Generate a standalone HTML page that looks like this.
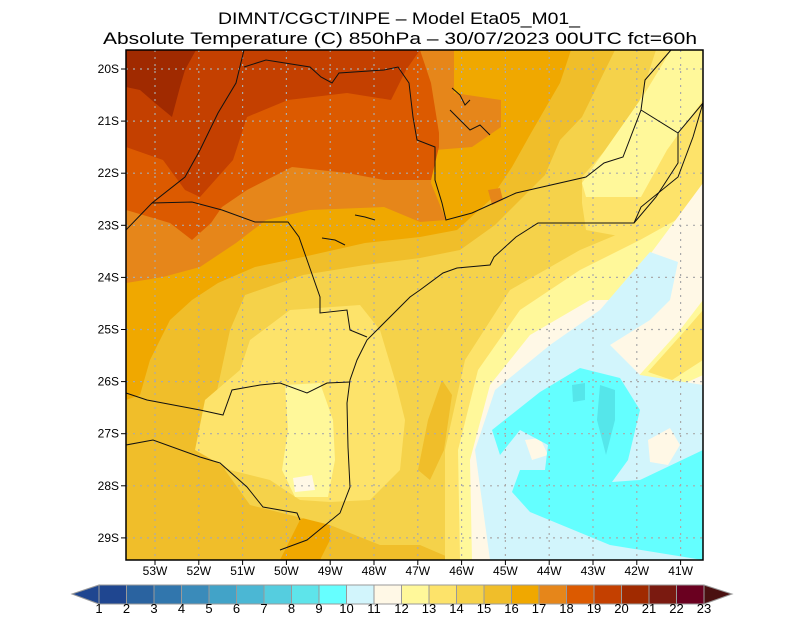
<!DOCTYPE html>
<html><head><meta charset="utf-8"><style>
body{margin:0;background:#fff;width:800px;height:618px;overflow:hidden;font-family:"Liberation Sans",sans-serif}
svg{display:block}
</style></head><body>
<svg id="map" width="800" height="618" viewBox="0 0 800 618">
<text x="218" y="24" textLength="362" lengthAdjust="spacingAndGlyphs" font-size="17" font-family="Liberation Sans, sans-serif">DIMNT/CGCT/INPE –  Model Eta05_M01_</text>
<text x="103" y="44" textLength="594" lengthAdjust="spacingAndGlyphs" font-size="17" font-family="Liberation Sans, sans-serif">Absolute Temperature (C) 850hPa –  30/07/2023 00UTC fct=60h</text>
<defs><clipPath id="plot"><rect x="126" y="50" width="577" height="510"/></clipPath></defs>
<g clip-path="url(#plot)">
<rect x="126" y="50" width="577" height="510" fill="#f0be2a"/>
<polygon fill="#f0a800" points="126,50 571,50 560,83 531,133 512,167 490,200 457,230 420,237 365,243 303,257 255,267 218,283 192,300 170,320 150,360 140,395 126,400"/>
<polygon fill="#f0a800" points="280,560 300,520 330,505 330,540 320,560"/>
<polygon fill="#e6861a" points="126,50 454,50 454,93 501,100 501,127 472,147 435,150 431,183 446,220 420,222 384,207 310,210 266,220 236,243 200,267 163,277 126,283"/>
<polygon fill="#e6861a" points="488,190 500,188 503,200 492,205"/>
<polygon fill="#dc5a00" points="126,50 420,50 431,83 439,133 439,147 431,180 384,180 347,173 292,167 247,190 222,207 211,223 192,240 170,223 126,210"/>
<polygon fill="#c44000" points="126,50 420,50 406,70 391,100 347,93 288,100 247,117 233,160 200,197 185,190 163,160 126,147"/>
<polygon fill="#a02a00" points="126,50 196,50 185,70 180,87 172,117 155,103 140,90 126,87"/>
<polygon fill="#f5d24a" points="615,50 703,50 703,560 455,560 420,545 380,545 330,525 250,505 225,470 215,400 230,330 245,295 303,275 365,265 420,258 460,250 495,225 520,200 545,175 560,140 582,117"/>
<polygon fill="#f0be2a" points="418,470 428,420 442,380 452,395 444,450 430,480"/>
<polygon fill="#fde36a" points="290,310 360,305 380,330 395,380 405,420 400,470 370,500 330,502 300,500 270,480 230,470 195,450 205,400 240,370 250,340"/>
<polygon fill="#fde36a" points="656,50 703,50 703,260 640,240 586,230 582,203 582,177 634,117"/>
<polygon fill="#fde36a" points="445,560 445,450 465,360 510,290 580,250 640,225 703,195 703,560"/>
<polygon fill="#fff89a" points="285,385 320,383 333,420 335,460 328,497 295,497 282,470 288,430"/>
<polygon fill="#fff8e6" points="293,478 312,475 315,490 295,492"/>
<polygon fill="#fff89a" points="671,50 703,50 703,100 667,150 641,197 586,197 582,183 645,93"/>
<polygon fill="#fff89a" points="460,560 458,450 478,370 520,310 580,270 640,240 703,205 703,560"/>
<polygon fill="#fff8e6" points="472,560 470,460 490,385 530,335 590,300 616,300 663,237 703,183 703,560"/>
<polygon fill="#fff89a" points="635,380 680,330 703,300 703,375 670,390"/>
<polygon fill="#fde36a" points="648,372 690,325 703,310 703,360 672,380"/>
<polygon fill="#d2f5fc" points="490,560 475,450 495,390 550,345 600,310 630,275 650,252 678,262 670,300 650,320 610,345 640,375 703,385 703,560"/>
<polygon fill="#fff8e6" points="648,440 670,428 680,445 668,465 650,462"/>
<polygon fill="#fff8e6" points="525,440 540,438 548,455 532,460"/>
<polygon fill="#64ffff" points="492,430 540,392 580,368 620,378 640,410 628,460 612,482 640,480 703,450 703,560 610,545 530,512 512,492 520,470 545,470 548,445 520,430 500,455"/>
<polygon fill="#55e6ea" points="600,385 615,390 615,420 606,455 597,420"/>
<polygon fill="#55e6ea" points="572,385 585,383 585,400 573,402"/>
</g>
<g id="grid" stroke="#aaa" stroke-width="1.2" stroke-dasharray="2,5" fill="none"></g>
<g fill="none" stroke="#111" stroke-width="1">
<polyline points="280,550 307,540 340,513 350,487 348,447 347,403 350,380 357,360 367,340 377,330 410,297 420,290 443,273 457,268 490,265 494,257 516,237 538,223 586,223 634,223 641,207 678,177 693,137 703,103"/>
<polyline points="244,50 236,83 218,113 200,150 185,177 152,203 126,230"/>
<polyline points="152,203 192,202 222,210 255,222 288,222 299,237 306,257 320,297 320,313 347,310 350,330 367,337"/>
<polyline points="244,67 266,60 310,67 321,77 332,83 339,73 384,70 398,67 409,83 413,117 417,140 435,147 435,180 442,203 446,220 472,213 494,203 516,193 586,177 604,163 623,157 641,110 645,80 671,50"/>
<polyline points="641,110 678,133 703,103"/>
<polyline points="678,133 678,163 656,197 634,223"/>
<polyline points="126,393 147,400 200,410 223,415 232,390 260,385 280,383 307,393 327,383 350,382"/>
<polyline points="126,445 153,440 200,457 220,463 247,487 263,507 297,513 300,520"/>
<polyline points="452,88 460,95 465,105 470,100"/>
<polyline points="450,110 460,120 470,130 480,125 490,135"/>
<polyline points="355,215 365,217 375,220"/>
<polyline points="322,238 335,240 345,245"/>
</g>
<rect x="126" y="50" width="577" height="510" fill="none" stroke="#000" stroke-width="1.5"/>
<g id="axes" font-size="12" font-family="Liberation Sans, sans-serif"></g>
<g id="cbar"></g>
</svg>
<script>
const latLabels=["20S","21S","22S","23S","24S","25S","26S","27S","28S","29S"];
const lonLabels=["53W","52W","51W","50W","49W","48W","47W","46W","45W","44W","43W","42W","41W"];
const levels=[1,2,3,4,5,6,7,8,9,10,11,12,13,14,15,16,17,18,19,20,21,22,23];
const cbColors=["#1f4690","#2a63a0","#3176ad","#3a8bba","#42a3c8","#4bb7d4","#55cddf","#5ee4ea","#66ffff","#d2f5fc","#fff8e6","#fff89a","#fde36a","#f5d24a","#f0be2a","#f0a800","#e6861a","#dc5a00","#c44000","#a02a00","#7a1a10","#6a0020"];
const NS="http://www.w3.org/2000/svg";
function mk(t,a,p){const e=document.createElementNS(NS,t);for(const k in a)e.setAttribute(k,a[k]);p.appendChild(e);return e;}
const yLat=i=>69+i*52.1, xLon=i=>155+i*43.8;
const grid=document.getElementById('grid'),axes=document.getElementById('axes'),cb=document.getElementById('cbar');
latLabels.forEach((l,i)=>{const y=yLat(i);
 const g=mk('line',{x1:126,x2:703,y1:y,y2:y},grid);
 
 
 mk('line',{x1:121,x2:126,y1:y,y2:y,stroke:'#000'},axes);
 const t=mk('text',{x:119,y:y+4,'text-anchor':'end'},axes);t.textContent=l;
 
 });
lonLabels.forEach((l,i)=>{const x=xLon(i);
 const g=mk('line',{x1:x,x2:x,y1:50,y2:560},grid);
 
 
 mk('line',{x1:x,x2:x,y1:560,y2:565,stroke:'#000'},axes);
 const t=mk('text',{x:x,y:575,'text-anchor':'middle'},axes);t.textContent=l;
 
 });
const x0=99,x1=704,w=(x1-x0)/cbColors.length;
const lo=mk('polygon',{points:`72,594 ${x0},585 ${x0},604`,fill:'#1f4690',stroke:'#999'},cb);


const hi=mk('polygon',{points:`${x1},585 732,594 ${x1},604`,fill:'#4a1010',stroke:'#999'},cb);


cbColors.forEach((c,i)=>{
 const r=mk('rect',{x:x0+i*w,y:585,width:w,height:19,fill:c,stroke:'#999','stroke-width':1},cb);
 
 
});
levels.forEach((v,i)=>{
 const t=mk('text',{x:x0+i*w,y:613,'text-anchor':'middle','font-size':13,'font-family':'Liberation Sans, sans-serif'},cb);
 t.textContent=v;
 
 });
</script>
</body></html>
